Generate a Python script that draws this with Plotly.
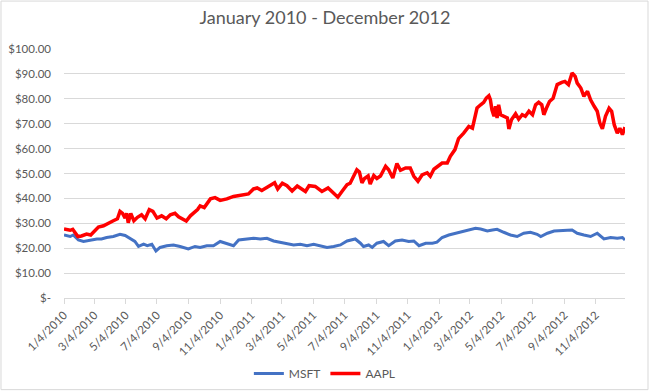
import plotly.graph_objects as go

msft_dates = ["2010-01-04","2010-01-16","2010-01-22","2010-02-01","2010-02-11","2010-02-24","2010-03-09","2010-03-18","2010-03-28","2010-04-10",
"2010-04-23","2010-05-03","2010-05-13","2010-05-22","2010-05-29","2010-06-08","2010-06-15","2010-06-24","2010-07-02","2010-07-10",
"2010-07-23","2010-08-05","2010-08-18","2010-09-03","2010-09-16","2010-09-26","2010-10-09","2010-10-22","2010-11-04","2010-11-17",
"2010-11-30","2010-12-10","2010-12-26","2011-01-08","2011-01-21","2011-02-03","2011-02-16","2011-03-01","2011-03-14","2011-03-27",
"2011-04-09","2011-04-22","2011-05-05","2011-05-18","2011-05-31","2011-06-13","2011-06-26","2011-07-09","2011-07-25","2011-08-04",
"2011-08-10","2011-08-20","2011-08-27","2011-09-05","2011-09-18","2011-09-28","2011-10-11","2011-10-24","2011-11-06","2011-11-16",
"2011-11-26","2011-12-09","2011-12-22","2011-12-31","2012-01-10","2012-01-23","2012-02-05","2012-02-18","2012-03-02","2012-03-15",
"2012-03-25","2012-04-07","2012-04-17","2012-04-26","2012-05-09","2012-05-22","2012-06-04","2012-06-17","2012-06-30","2012-07-13",
"2012-07-20","2012-08-02","2012-08-15","2012-08-28","2012-09-10","2012-09-19","2012-09-29","2012-10-12","2012-10-25","2012-11-07",
"2012-11-20","2012-12-03","2012-12-16","2012-12-26","2012-12-31"]
msft_values = [25.3,24.7,25.3,23.3,22.7,23.3,23.7,23.7,24.3,24.7,
25.6,25.1,24.0,22.7,20.7,21.6,21.0,21.6,18.9,20.3,
21.0,21.3,20.7,19.7,20.7,20.3,21.0,21.0,22.7,22.0,
21.0,23.3,23.7,24.0,23.7,24.0,22.9,22.4,21.6,21.3,
21.6,21.0,21.6,21.0,20.3,20.7,21.3,22.9,23.7,22.0,
20.7,21.3,20.3,22.0,22.7,21.0,22.9,23.3,22.7,22.9,
21.0,22.0,22.0,22.4,24.3,25.3,26.0,26.9,27.6,28.0,
27.7,26.9,27.3,27.6,26.4,25.3,24.7,26.0,26.4,25.6,
24.7,26.0,26.9,26.9,27.2,27.3,26.0,25.3,24.7,26.0,
23.7,24.3,24.0,24.3,23.3]

aapl_dates = ["2010-01-04","2010-01-16","2010-01-21","2010-01-25","2010-01-31","2010-02-07","2010-02-17","2010-02-25","2010-03-05","2010-03-12",
"2010-03-22","2010-03-31","2010-04-10","2010-04-18","2010-04-23","2010-04-28","2010-05-03","2010-05-06","2010-05-09","2010-05-14",
"2010-05-20","2010-05-27","2010-06-04","2010-06-11","2010-06-19","2010-06-26","2010-07-04","2010-07-13","2010-07-22","2010-07-30",
"2010-08-08","2010-08-15","2010-08-24","2010-08-30","2010-09-07","2010-09-13","2010-09-21","2010-09-26","2010-10-04","2010-10-16",
"2010-10-25","2010-11-04","2010-11-17","2010-11-30","2010-12-13","2010-12-29","2011-01-08","2011-01-15","2011-01-24","2011-02-03",
"2011-02-06","2011-02-18","2011-02-24","2011-03-05","2011-03-14","2011-03-24","2011-04-03","2011-04-11","2011-04-19","2011-04-26",
"2011-05-08","2011-05-21","2011-06-02","2011-06-13","2011-06-21","2011-06-29","2011-07-09","2011-07-15","2011-07-22","2011-07-28",
"2011-08-02","2011-08-07","2011-08-12","2011-08-19","2011-08-23","2011-08-30","2011-09-05","2011-09-12","2011-09-22","2011-09-28",
"2011-10-06","2011-10-14","2011-10-21","2011-10-31","2011-11-09","2011-11-16","2011-11-24","2011-12-02","2011-12-12","2011-12-18",
"2011-12-25","2012-01-03","2012-01-10","2012-01-20","2012-01-26","2012-02-04","2012-02-11","2012-02-21","2012-03-02","2012-03-09",
"2012-03-15","2012-03-18","2012-03-25","2012-03-31","2012-04-05","2012-04-10","2012-04-13","2012-04-16","2012-04-20","2012-04-23",
"2012-04-26","2012-04-29","2012-05-03","2012-05-09","2012-05-16","2012-05-19","2012-05-24","2012-06-01","2012-06-07","2012-06-14",
"2012-06-20","2012-06-27","2012-07-04","2012-07-10","2012-07-16","2012-07-22","2012-07-26","2012-07-31","2012-08-06","2012-08-13",
"2012-08-21","2012-08-30","2012-09-05","2012-09-12","2012-09-19","2012-09-25","2012-09-29","2012-10-06","2012-10-12","2012-10-19",
"2012-10-25","2012-11-01","2012-11-07","2012-11-12","2012-11-17","2012-11-23","2012-11-30","2012-12-05","2012-12-10","2012-12-16",
"2012-12-21","2012-12-26","2012-12-31"]
aapl_values = [27.7,27.2,27.6,26.3,24.7,24.9,25.7,25.3,27.2,28.5,
29.0,30.1,31.0,31.8,34.8,34.0,32.1,34.0,30.2,34.0,
31.0,32.4,33.4,31.8,35.5,34.8,32.1,33.0,31.8,33.4,
34.0,32.6,31.8,30.9,33.0,34.0,35.5,37.0,36.3,39.8,
40.3,39.2,39.8,40.8,41.2,41.8,43.8,44.2,43.2,44.5,
45.1,46.3,43.8,46.1,45.1,43.0,45.0,43.8,42.8,45.1,
44.8,42.8,44.2,42.1,40.5,42.8,45.5,46.1,48.8,51.5,
50.6,46.2,48.0,49.0,45.8,49.2,48.0,49.0,52.9,51.5,
48.2,54.0,51.3,52.2,52.2,48.9,46.9,49.4,50.3,48.9,
51.7,52.9,54.2,54.2,56.9,59.6,64.0,66.2,68.9,68.2,
72.9,76.3,77.6,78.6,80.3,81.2,79.6,75.6,73.0,77.0,
72.3,77.6,73.6,73.0,72.3,67.9,71.6,74.0,71.8,73.6,
73.0,75.0,73.6,77.6,78.6,77.6,73.6,76.2,78.9,80.2,
85.7,86.6,87.0,85.7,90.4,89.0,86.3,84.3,81.0,83.0,
79.6,77.0,75.0,70.3,67.9,73.0,76.2,75.0,69.6,66.2,
68.2,65.6,68.6]

x_tick_dates = ["2010-01-04","2010-03-04","2010-05-04","2010-07-04","2010-09-04","2010-11-04",
"2011-01-04","2011-03-04","2011-05-04","2011-07-04","2011-09-04","2011-11-04",
"2012-01-04","2012-03-04","2012-05-04","2012-07-04","2012-09-04","2012-11-04"]
x_tick_labels = ["1/4/2010","3/4/2010","5/4/2010","7/4/2010","9/4/2010","11/4/2010",
"1/4/2011","3/4/2011","5/4/2011","7/4/2011","9/4/2011","11/4/2011",
"1/4/2012","3/4/2012","5/4/2012","7/4/2012","9/4/2012","11/4/2012"]
y_tick_vals = [0,10,20,30,40,50,60,70,80,90,100]
y_tick_labels = ["$-","$10.00","$20.00","$30.00","$40.00","$50.00","$60.00","$70.00","$80.00","$90.00","$100.00"]

FONT = "Lato, Open Sans, sans-serif"
GREY = "#595959"

fig = go.Figure()
fig.add_trace(go.Scatter(x=msft_dates, y=msft_values, mode="lines", name="MSFT",
                         line=dict(color="#4472C4", width=3)))
fig.add_trace(go.Scatter(x=aapl_dates, y=aapl_values, mode="lines", name="AAPL",
                         line=dict(color="#FF0000", width=3.5)))

fig.update_layout(
    width=650, height=392,
    margin=dict(l=64, r=25, t=49, b=94, autoexpand=False),
    paper_bgcolor="white", plot_bgcolor="white",
    title=dict(text="January 2010 - December 2012", x=0.5, xanchor="center",
               y=0.955, yanchor="middle",
               font=dict(family=FONT, size=18, color=GREY)),
    font=dict(family=FONT, size=11, color=GREY),
    showlegend=True,
    legend=dict(orientation="h", x=0.465, xanchor="center", y=-0.245, yanchor="top",
                font=dict(family=FONT, size=12, color=GREY)),
    xaxis=dict(type="date", range=["2010-01-04", "2012-12-31"], automargin=False,
               tickvals=x_tick_dates, ticktext=x_tick_labels, tickangle=-45,
               showgrid=False, showline=True, linecolor="#d9d9d9", linewidth=1,
               ticks="outside", ticklen=5, tickcolor="#d9d9d9",
               tickfont=dict(family=FONT, size=11.5, color=GREY), zeroline=False),
    yaxis=dict(range=[0, 100], tickvals=y_tick_vals, ticktext=y_tick_labels, automargin=False,
               showgrid=True, gridcolor="#d9d9d9", gridwidth=1, zeroline=False,
               showline=False, ticks="", ticklabelstandoff=12,
               tickfont=dict(family=FONT, size=11.5, color=GREY)),
    shapes=[dict(type="rect", xref="paper", yref="paper",
                 x0=-0.1123, x1=1.0410, y0=-0.368, y1=1.1925,
                 line=dict(color="#d9d9d9", width=1), fillcolor="rgba(0,0,0,0)",
                 layer="below")],
)

fig.write_html("out.html", config={"displayModeBar": False},
               post_script="document.body.style.margin='0';")
